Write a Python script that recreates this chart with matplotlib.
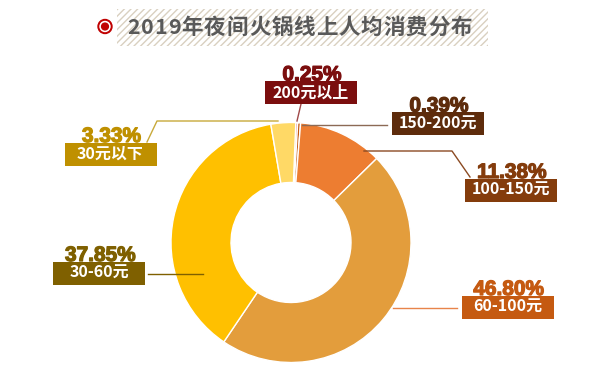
import numpy as np
import matplotlib.pyplot as plt
import matplotlib.patheffects as pe
from matplotlib.patches import Rectangle, Circle

plt.rcParams['font.family'] = ['Noto Sans CJK SC', 'DejaVu Sans']

# data, clockwise from the top
labels = ['200元以上', '150-200元', '100-150元', '60-100元', '30-60元', '30元以下']
shares = [0.25, 0.39, 11.38, 46.80, 37.85, 3.33]
pct_text = ['0.25%', '0.39%', '11.38%', '46.80%', '37.85%', '3.33%']
wedge_colors = ['#C00000', '#C55A11', '#ED7D31', '#E39D3C', '#FFC000', '#FFD966']
box_colors = ['#7B0E0E', '#5E2C0C', '#843C0C', '#C55A11', '#7F6000', '#BF9000']
line_colors = ['#A04848', '#8C6A55', '#8B4A22', '#E8844A', '#7F6000', '#C8A93A']
title = '2019年夜间火锅线上人均消费分布'

W, H = 600, 366
fig = plt.figure(figsize=(6, 3.66), dpi=100)

# donut
cx, cy, r = 291, 242.5, 120
ax = fig.add_axes([(cx - r) / W, (H - cy - r) / H, 2 * r / W, 2 * r / H])
ax.pie(shares, colors=wedge_colors, startangle=87.7, counterclock=False,
       wedgeprops=dict(width=0.5, edgecolor='white', linewidth=1))
ax.set_xlim(-1, 1)
ax.set_ylim(-1, 1)
ax.set_aspect('equal')

# overlay in pixel coordinates for labels / title
ov = fig.add_axes([0, 0, 1, 1], zorder=5)
ov.set_xlim(0, W)
ov.set_ylim(H, 0)
ov.axis('off')
ov.patch.set_alpha(0)

# label layout (box centres) and leader lines
box_pos = [(311, 92.5), (438, 123.7), (511, 190), (507.7, 307), (99.3, 273), (110.5, 154)]
leaders = [
    [(301, 104), (297, 121)],
    [(302, 125), (387, 125)],
    [(364, 151), (452, 151), (470, 177)],
    [(393, 308), (457, 308)],
    [(148, 274), (203, 274)],
    [(147, 142), (157, 121), (278, 121)],
]
bw, bh = 92, 23

for i, lab in enumerate(labels):
    pts = np.array(leaders[i])
    ov.plot(pts[:, 0], pts[:, 1], color=line_colors[i], lw=1, zorder=2)
    bx, by = box_pos[i]
    ov.text(bx + 1, by - 12, pct_text[i], ha='center', va='baseline',
            fontsize=15, fontweight='bold', color=box_colors[i],
            family=['Liberation Sans', 'DejaVu Sans'], zorder=3,
            path_effects=[pe.withStroke(linewidth=0.9, foreground=box_colors[i])])
    ov.add_patch(Rectangle((bx - bw / 2, by - bh / 2), bw, bh,
                           facecolor=box_colors[i], edgecolor='none', zorder=4))
    ov.text(bx, by, lab, ha='center', va='center', fontsize=11.5,
            fontweight='bold', color='white', zorder=5)

# title: bullet + hatched band + letter-spaced text
ov.add_patch(Circle((105, 26.5), 7, color='#C00000', zorder=3))
ov.add_patch(Circle((105, 26.5), 5, color='white', zorder=3))
ov.add_patch(Circle((105, 26.5), 3.4, color='#C00000', zorder=3))
ov.add_patch(Rectangle((117, 9), 371, 37, facecolor='white', edgecolor='#D9D0C0',
                       hatch='/////', linewidth=0, zorder=1))

renderer = fig.canvas.get_renderer()
chars = [ov.text(0, 27.5, c, ha='left', va='center', fontsize=15.5,
                 fontweight='bold', color='#595959', zorder=3) for c in title]
widths = [t.get_window_extent(renderer).width for t in chars]
gap = (345 - sum(widths)) / (len(chars) - 1)
x = 127
for t, w in zip(chars, widths):
    t.set_x(x)
    x += w + gap

fig.savefig('out.png', dpi=100)
